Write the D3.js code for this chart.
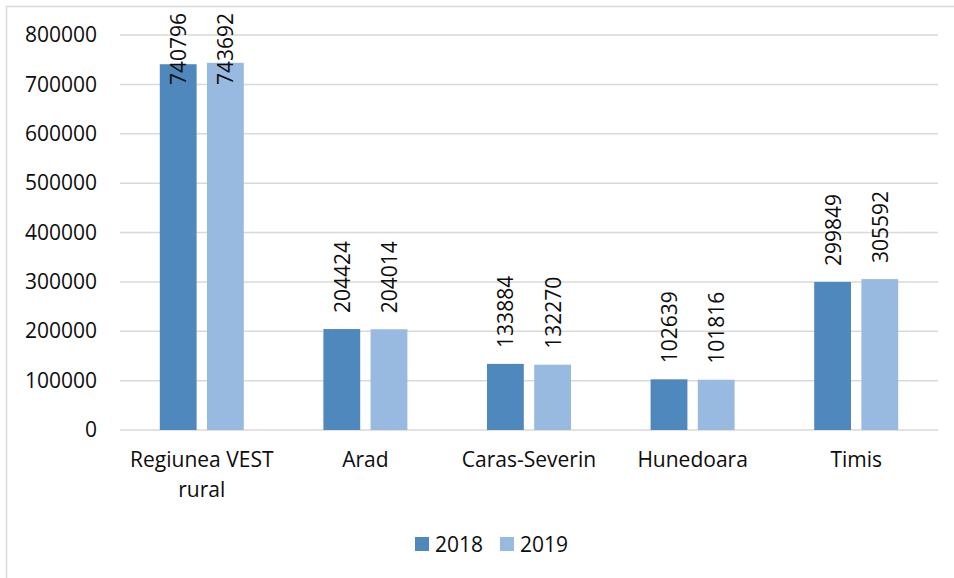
<!DOCTYPE html>
<html>
<head>
<meta charset="utf-8">
<script src="https://cdn.jsdelivr.net/npm/d3@7"></script>
<style>
  body { margin: 0; background: #fff; }
  svg text { font-family: "Open Sans", sans-serif; fill: #0d0d0d; }
</style>
</head>
<body>
<div class="chart"></div>
<script>
// data
const categories = [["Regiunea VEST", "rural"], ["Arad"], ["Caras-Severin"], ["Hunedoara"], ["Timis"]];
const years = ["2018", "2019"];
const values2018 = [740796, 204424, 133884, 102639, 299849];
const values2019 = [743692, 204014, 132270, 101816, 305592];
const yTicks = [0, 100000, 200000, 300000, 400000, 500000, 600000, 700000, 800000];
const colors = ["#4f88bc", "#98b9e0"];

const W = 954, H = 578;
const plotLeft = 120, plotRight = 938, plotTop = 35, plotBottom = 430;
const FS = 21;

const svg = d3.select(".chart").append("svg")
  .attr("width", W)
  .attr("height", H);

// chart border (only top/left visible in the picture)
svg.append("rect")
  .attr("x", 6.5).attr("y", 6.5)
  .attr("width", W + 20).attr("height", H + 20)
  .attr("fill", "none")
  .attr("stroke", "#d9d9d9")
  .attr("stroke-width", 1.5);

const x0 = d3.scaleBand()
  .domain(d3.range(categories.length))
  .range([plotLeft, plotRight]);

const x1 = d3.scaleBand()
  .domain(years)
  .range([x0.bandwidth() / 2 - 42, x0.bandwidth() / 2 + 42])
  .paddingInner(0.22);

const y = d3.scaleLinear()
  .domain([0, 800000])
  .range([plotBottom, plotTop]);

// gridlines
svg.append("g")
  .selectAll("line")
  .data(yTicks)
  .enter().append("line")
  .attr("x1", plotLeft).attr("x2", plotRight)
  .attr("y1", d => y(d)).attr("y2", d => y(d))
  .attr("stroke", "#d9d9d9")
  .attr("stroke-width", 1.5);

// y tick labels
const yAxis = svg.append("g")
  .attr("transform", `translate(${plotLeft},0)`)
  .call(d3.axisLeft(y).tickValues(yTicks).tickSize(0).tickPadding(23).tickFormat(d3.format("d")));
yAxis.select(".domain").remove();
yAxis.selectAll("text")
  .attr("font-size", FS)
  .style("font-family", "'Open Sans', sans-serif")
  .attr("fill", "#0d0d0d");

// bars
const rows = categories.map((c, i) => ({ i, vals: [values2018[i], values2019[i]] }));

const groups = svg.selectAll(".grp")
  .data(rows)
  .enter().append("g")
  .attr("transform", d => `translate(${x0(d.i)},0)`);

groups.selectAll("rect")
  .data(d => d.vals.map((v, k) => ({ year: years[k], v, k })))
  .enter().append("rect")
  .attr("x", d => x1(d.year))
  .attr("y", d => y(d.v))
  .attr("width", x1.bandwidth())
  .attr("height", d => plotBottom - y(d.v))
  .attr("fill", d => colors[d.k]);

// value labels, rotated; pushed down inside the bar when they would leave the chart
groups.selectAll(".val")
  .data(d => d.vals.map((v, k) => ({ year: years[k], v, k })))
  .enter().append("text")
  .attr("class", "val")
  .attr("font-size", FS)
  .attr("text-anchor", "start")
  .attr("dominant-baseline", "central")
  .text(d => d.v)
  .attr("transform", function(d) {
    const len = this.getComputedTextLength();
    const cx = x1(d.year) + x1.bandwidth() / 2;
    const start = Math.max(y(d.v) - 16, 13 + len);
    return `translate(${cx},${start}) rotate(-90)`;
  });

// category labels
const catLabels = svg.selectAll(".cat")
  .data(categories)
  .enter().append("text")
  .attr("class", "cat")
  .attr("font-size", FS)
  .attr("text-anchor", "middle")
  .attr("x", (d, i) => x0(i) + x0.bandwidth() / 2)
  .attr("y", 467);
catLabels.selectAll("tspan")
  .data(d => d)
  .enter().append("tspan")
  .attr("x", function() { return d3.select(this.parentNode).attr("x"); })
  .attr("dy", (d, i) => i === 0 ? 0 : 30)
  .text(d => d);

// legend
const legend = svg.append("g");
const legendX = [415, 500];
years.forEach((yr, k) => {
  legend.append("rect")
    .attr("x", legendX[k]).attr("y", 537)
    .attr("width", 14).attr("height", 14)
    .attr("fill", colors[k]);
  legend.append("text")
    .attr("x", legendX[k] + 20).attr("y", 544)
    .attr("dominant-baseline", "central")
    .attr("font-size", FS)
    .text(yr);
});
</script>
</body>
</html>
